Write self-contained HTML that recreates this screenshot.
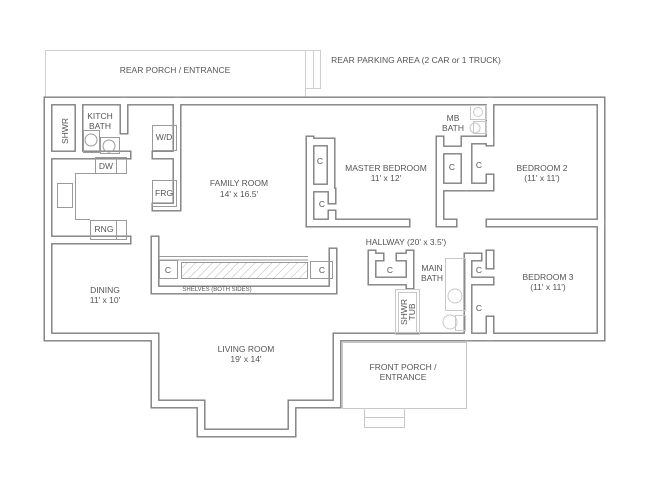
<!DOCTYPE html>
<html><head><meta charset="utf-8"><style>
html,body{margin:0;padding:0;background:#fff;}
svg{display:block;}
text{font-family:"Liberation Sans",sans-serif;font-size:8.5px;fill:#555;text-anchor:middle;}
</style></head><body>
<svg width="650" height="502" viewBox="0 0 650 502" xmlns="http://www.w3.org/2000/svg">
<defs>
<g id="walls" fill="none">
<path d="M48,101 H601 V337 H337 V404 H292 V433 H201 V404 H155 V337 H48 Z"/>
<path d="M79,105 V155 M53,155 H127 M124,101 V130"/>
<path d="M177,101 V207 M156,155 H177 M156,207 H177"/>
<path d="M53,240 H127"/>
<path d="M310,140 V223 H406 M310,142 H331 V186 M310,188 H331 M332,192 V200 M332,214 V223"/>
<path d="M440,140 V223 H453 M440,150 H465 M443,187 H465 M465,140 V187 M465,140 H490"/>
<path d="M468,142 V187 H490 M490,101 V142 M490,178 V187"/>
<path d="M490,223 H601"/>
<path d="M468,257 V337 M468,281 H490 M490,254 V265 M490,320 V337 M468,257 H478"/>
<path d="M372,254 V281 H410 M410,254 V285 M372,257 H380 M400,257 H410"/>
<path d="M155,240 V290 H333 V252"/>
</g>
</defs>
<!-- rear porch -->
<g fill="none" stroke="#cfcfcf" stroke-width="1">
<rect x="45.5" y="50.5" width="260" height="47"/>
<rect x="305.5" y="50.5" width="8" height="38"/>
<rect x="313.5" y="50.5" width="7" height="38"/>
<path d="M305,97.5 H520"/>
</g>
<use href="#walls" stroke="#7d7d7d" stroke-width="9" stroke-linecap="square" stroke-linejoin="miter"/>
<use href="#walls" stroke="#fff" stroke-width="6.2" stroke-linecap="square" stroke-linejoin="miter"/>
<!-- fixtures -->
<g fill="none" stroke="#9a9a9a" stroke-width="1">
<rect x="152.5" y="125.5" width="24" height="25"/>
<rect x="152.5" y="180.5" width="24" height="26"/>
<rect x="95.5" y="157.5" width="21" height="16"/><rect x="116.5" y="157.5" width="10" height="16"/>
<rect x="90.5" y="220.5" width="26" height="19"/><rect x="116.5" y="220.5" width="10" height="19"/>
<path d="M95,173.5 H75.5 V219.5 H90"/>
<rect x="57.5" y="183.5" width="15" height="24"/>
<rect x="83.5" y="130.5" width="16" height="22"/><rect x="100.5" y="137.5" width="19" height="16"/>
<circle cx="91" cy="140" r="6"/><circle cx="109" cy="146" r="6"/>
<rect x="159.5" y="260.5" width="18" height="18"/>
<rect x="310.5" y="261.5" width="22" height="17"/>
<path d="M159,256.5 H308 M159,260 H308"/>
</g>
<g fill="none" stroke="#c8c8c8" stroke-width="1">
<rect x="470.5" y="105.5" width="16" height="14"/><circle cx="478" cy="112" r="4.5"/>
<rect x="473.5" y="121.5" width="13" height="12"/><circle cx="475" cy="128" r="5"/>
<rect x="395.5" y="289.5" width="24" height="45"/><rect x="398.5" y="292.5" width="18" height="40"/>
<rect x="445.5" y="258.5" width="20" height="52"/><circle cx="455" cy="296" r="7"/>
<circle cx="450" cy="322" r="7"/><rect x="455.5" y="315.5" width="10" height="15"/>
<rect x="342.5" y="342.5" width="124" height="66"/>
<path d="M364.5,408 V427.5 H404.5 V408 M364.5,417.5 H404.5"/>
</g>
<g>
<defs><pattern id="h" width="6" height="6" patternUnits="userSpaceOnUse" patternTransform="rotate(45)"><line x1="0" y1="0" x2="0" y2="6" stroke="#bbb" stroke-width="1"/></pattern></defs>
<rect x="181.5" y="262.5" width="126" height="16" fill="url(#h)" stroke="#999" stroke-width="1"/>
</g>
<!-- labels -->
<text x="175" y="73">REAR PORCH /  ENTRANCE</text>
<text x="416" y="63">REAR PARKING AREA (2 CAR or 1 TRUCK)</text>
<text x="100" y="119">KITCH</text><text x="100" y="129">BATH</text>
<text transform="translate(68,131) rotate(-90)">SHWR</text>
<text x="164" y="140">W/D</text>
<text x="106" y="169">DW</text>
<text x="164" y="196">FRG</text>
<text x="104" y="232">RNG</text>
<text x="239" y="186">FAMILY ROOM</text><text x="239" y="197">14' x 16.5'</text>
<text x="320" y="164">C</text><text x="322" y="207">C</text>
<text x="386" y="171">MASTER BEDROOM</text><text x="386" y="181">11' x 12'</text>
<text x="452" y="170">C</text><text x="479" y="168">C</text>
<text x="453" y="121">MB</text><text x="453" y="131">BATH</text>
<text x="542" y="171">BEDROOM 2</text><text x="542" y="181">(11' x 11')</text>
<text x="406" y="245">HALLWAY (20' x 3.5')</text>
<text x="168" y="273">C</text><text x="322" y="273">C</text>
<text x="390" y="273">C</text>
<text x="432" y="271">MAIN</text><text x="432" y="281">BATH</text>
<text x="479" y="273">C</text><text x="479" y="311">C</text>
<text transform="translate(407,312) rotate(-90)">SHWR</text>
<text transform="translate(415,312) rotate(-90)">TUB</text>
<text x="548" y="280">BEDROOM 3</text><text x="548" y="290">(11' x 11')</text>
<text x="217" y="291" style="font-size:6px">SHELVES (BOTH SIDES)</text>
<text x="105" y="293">DINING</text><text x="105" y="303">11' x 10'</text>
<text x="246" y="352">LIVING ROOM</text><text x="246" y="362">19' x 14'</text>
<text x="403" y="370">FRONT PORCH /</text><text x="403" y="380">ENTRANCE</text>
</svg>
</body></html>
